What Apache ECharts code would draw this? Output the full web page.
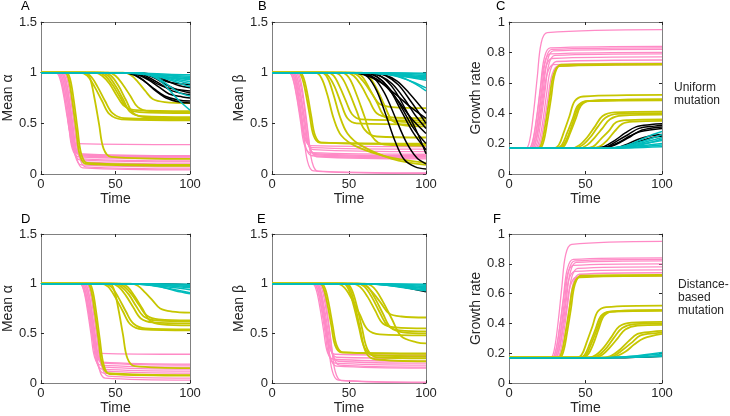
<!DOCTYPE html>
<html><head><meta charset="utf-8">
<script src="https://cdn.jsdelivr.net/npm/echarts@6/dist/echarts.min.js"></script>
<style>html,body{margin:0;padding:0;background:#fff}#c{width:730px;height:416px}</style>
</head><body><div id="c"></div>
<script>
// ---------- tick labels ----------
const xTicks = [0, 50, 100];
const yTicksMean = [0, 0.5, 1, 1.5];
const yTicksGrowth = [0, 0.2, 0.4, 0.6, 0.8, 1];

// ---------- Panel A : Mean alpha, uniform mutation ----------
const A_pink = [
 [[0,1],[10,1],[12.5,0.95],[15,0.79],[17.5,0.57],[20,0.38],[24,0.30],[100,0.29]],
 [[0,1],[11,1],[13.5,0.94],[16,0.75],[18.5,0.51],[21,0.28],[25,0.20],[100,0.18]],
 [[0,1],[12,1],[14.5,0.94],[17,0.75],[19.5,0.50],[22,0.27],[26,0.19],[100,0.17]],
 [[0,1],[13,1],[15.5,0.94],[18,0.75],[20.5,0.50],[23,0.26],[27,0.18],[100,0.16]],
 [[0,1],[11,1],[13.5,0.94],[16,0.75],[18.5,0.49],[21,0.25],[25,0.17],[100,0.15]],
 [[0,1],[14,1],[16.5,0.94],[19,0.74],[21.5,0.48],[24,0.23],[28,0.15],[100,0.13]],
 [[0,1],[12,1],[14.5,0.94],[17,0.74],[19.5,0.47],[22,0.23],[26,0.14],[100,0.12]],
 [[0,1],[15,1],[17.5,0.94],[20,0.73],[22.5,0.46],[25,0.21],[29,0.12],[100,0.10]],
 [[0,1],[13,1],[15.5,0.94],[18,0.72],[20.5,0.44],[23,0.18],[27,0.09],[100,0.07]],
 [[0,1],[16,1],[18.5,0.93],[21,0.72],[23.5,0.43],[26,0.16],[30,0.07],[100,0.05]],
 [[0,1],[14,1],[16.5,0.93],[19,0.71],[21.5,0.42],[24,0.16],[28,0.06],[100,0.04]]
];
const A_yellow = [
 [[0,1],[16,1],[18.5,0.94],[21,0.72],[23.5,0.45],[26,0.19],[30,0.10],[100,0.08]],
 [[0,1],[17,1],[19.5,0.94],[22,0.73],[24.5,0.45],[27,0.20],[31,0.11],[100,0.09]],
 [[0,1],[30,1],[33,0.94],[36,0.74],[39,0.49],[42,0.25],[47,0.17],[100,0.15]],
 [[0,1],[26,1],[31,0.97],[36,0.86],[41,0.72],[46,0.59],[54,0.54],[100,0.53]],
 [[0,1],[28,1],[33,0.97],[38,0.86],[43,0.72],[48,0.60],[56,0.55],[100,0.54]],
 [[0,1],[36,1],[41,0.97],[46,0.89],[51,0.77],[56,0.67],[64,0.63],[100,0.62]],
 [[0,1],[38,1],[43,0.97],[48,0.88],[53,0.76],[58,0.65],[66,0.61],[100,0.60]],
 [[0,1],[42,1],[47,0.97],[52,0.87],[57,0.73],[62,0.60],[70,0.56],[100,0.55]],
 [[0,1],[45,1],[50,0.97],[55,0.88],[60,0.77],[65,0.66],[73,0.62],[100,0.61]],
 [[0,1],[40,1],[45,0.97],[50,0.87],[55,0.74],[60,0.61],[68,0.57],[100,0.56]],
 [[0,1],[55,1],[60,0.98],[65,0.91],[70,0.82],[75,0.74],[83,0.71],[100,0.70]]
];
const A_black = [
 [[0,1],[55,1],[62,0.98],[69,0.92],[76,0.84],[83,0.77],[92,0.73],[100,0.72]],
 [[0,1],[58,1],[65,0.98],[72,0.93],[79,0.86],[86,0.79],[95,0.76],[100,0.75]],
 [[0,1],[60,1],[67,0.99],[74,0.94],[81,0.88],[88,0.82],[100,0.78]],
 [[0,1],[62,1],[69,0.99],[76,0.95],[83,0.89],[90,0.84],[100,0.80]],
 [[0,1],[57,1],[64,0.99],[71,0.95],[78,0.89],[85,0.85],[94,0.83],[100,0.82]],
 [[0,1],[65,1],[72,0.99],[79,0.96],[86,0.91],[93,0.87],[100,0.85]],
 [[0,1],[60,1],[67,0.99],[74,0.97],[81,0.93],[88,0.90],[100,0.88]],
 [[0,1],[56,1],[63,0.98],[70,0.91],[77,0.82],[84,0.75],[93,0.71],[100,0.70]]
];
const A_cyan = [
 [[0,1],[50,1],[70,0.995],[85,0.985],[100,0.98]],
 [[0,1],[50,1],[70,0.99],[85,0.975],[100,0.965]],
 [[0,1],[55,1],[70,0.99],[85,0.97],[100,0.95]],
 [[0,1],[50,1],[65,0.99],[80,0.965],[100,0.94]],
 [[0,1],[55,1],[70,0.985],[85,0.955],[100,0.93]],
 [[0,1],[60,1],[72,0.985],[86,0.95],[100,0.91]],
 [[0,1],[60,1],[72,0.98],[86,0.94],[100,0.89]],
 [[0,1],[62,1],[74,0.98],[88,0.92],[100,0.86]],
 [[0,1],[62,1],[70,0.99],[78,0.95],[86,0.87],[93,0.80],[100,0.77]],
 [[0,1],[65,1],[72,0.98],[79,0.93],[86,0.83],[93,0.72],[100,0.63]]
];

// ---------- Panel B : Mean beta, uniform mutation ----------
const B_pink = [
 [[0,1],[11,1],[13.5,0.95],[16,0.78],[18.5,0.56],[21,0.36],[25,0.28],[100,0.27]],
 [[0,1],[12,1],[14.5,0.95],[17,0.77],[19.5,0.55],[22,0.34],[26,0.26],[100,0.245]],
 [[0,1],[13,1],[15.5,0.95],[18,0.77],[20.5,0.53],[23,0.31],[27,0.24],[100,0.22]],
 [[0,1],[11,1],[13.5,0.94],[16,0.76],[18.5,0.52],[21,0.29],[25,0.21],[100,0.195]],
 [[0,1],[14,1],[16.5,0.94],[19,0.75],[21.5,0.50],[24,0.27],[28,0.19],[100,0.17]],
 [[0,1],[12,1],[14.5,0.94],[17,0.75],[19.5,0.50],[22,0.26],[26,0.18],[100,0.16]],
 [[0,1],[15,1],[17.5,0.94],[20,0.75],[22.5,0.49],[25,0.25],[29,0.17],[100,0.15]],
 [[0,1],[13,1],[15.5,0.93],[18,0.70],[20.5,0.41],[23,0.13],[27,0.03],[100,0.01]],
 [[0,1],[16,1],[18.5,0.93],[21,0.70],[23.5,0.40],[26,0.12],[30,0.025],[100,0.005]],
 [[0,1],[14,1],[16.5,0.94],[19,0.75],[21.5,0.51],[24,0.28],[28,0.20],[100,0.18]]
];
const B_yellow = [
 [[0,1],[17,1],[19.5,0.95],[22,0.79],[24.5,0.58],[27,0.38],[31,0.31],[100,0.30]],
 [[0,1],[18,1],[20.5,0.95],[23,0.79],[25.5,0.57],[28,0.38],[32,0.31],[100,0.295]],
 [[0,1],[28,1],[32,0.95],[36,0.78],[40,0.55],[45,0.38],[55,0.27],[75,0.17],[100,0.11]],
 [[0,1],[32,1],[36,0.95],[40,0.78],[44,0.57],[49,0.40],[58,0.28],[78,0.15],[100,0.09]],
 [[0,1],[33,1],[37,0.96],[41,0.85],[45,0.69],[49,0.55],[55,0.50],[100,0.49]],
 [[0,1],[36,1],[40,0.97],[44,0.86],[48,0.72],[52,0.59],[58,0.54],[100,0.53]],
 [[0,1],[40,1],[45,0.96],[50,0.81],[55,0.62],[60,0.44],[68,0.37],[100,0.36]],
 [[0,1],[45,1],[50,0.95],[55,0.78],[60,0.57],[65,0.37],[73,0.29],[100,0.28]],
 [[0,1],[48,1],[53,0.97],[58,0.87],[63,0.73],[68,0.60],[76,0.56],[100,0.55]],
 [[0,1],[50,1],[55,0.98],[60,0.90],[65,0.79],[70,0.69],[78,0.66],[100,0.65]],
 [[0,1],[53,1],[58,0.97],[63,0.85],[68,0.71],[73,0.57],[81,0.52],[100,0.51]],
 [[0,1],[58,1],[63,0.96],[68,0.84],[73,0.68],[78,0.53],[86,0.48],[100,0.47]]
];
const B_black = [
 [[0,1],[55,1],[62,0.96],[68,0.82],[74,0.58],[80,0.32],[86,0.14],[93,0.07],[100,0.05]],
 [[0,1],[58,1],[66,0.95],[73,0.80],[80,0.56],[87,0.32],[94,0.16],[100,0.10]],
 [[0,1],[60,1],[68,0.96],[76,0.84],[84,0.62],[92,0.40],[100,0.24]],
 [[0,1],[55,1],[64,0.97],[73,0.88],[82,0.72],[91,0.54],[100,0.40]],
 [[0,1],[62,1],[70,0.97],[78,0.89],[86,0.74],[93,0.58],[100,0.45]],
 [[0,1],[50,1],[60,0.98],[70,0.91],[80,0.79],[90,0.66],[100,0.55]],
 [[0,1],[65,1],[73,0.98],[81,0.92],[89,0.80],[100,0.60]],
 [[0,1],[60,1],[68,0.96],[76,0.85],[84,0.66],[92,0.45],[100,0.30]],
 [[0,1],[66,1],[74,0.97],[82,0.88],[90,0.72],[100,0.50]],
 [[0,1],[63,1],[71,0.96],[79,0.84],[87,0.63],[94,0.42],[100,0.20]]
];
const B_cyan = [
 [[0,1],[60,1],[100,0.995]],
 [[0,1],[60,1],[80,0.995],[100,0.985]],
 [[0,1],[55,1],[78,0.99],[100,0.97]],
 [[0,1],[55,1],[75,0.985],[100,0.96]],
 [[0,1],[60,1],[80,0.98],[100,0.95]],
 [[0,1],[60,1],[80,0.975],[100,0.94]],
 [[0,1],[65,1],[82,0.97],[100,0.925]],
 [[0,1],[62,1],[72,0.99],[82,0.96],[91,0.91],[100,0.85]],
 [[0,1],[65,1],[75,0.99],[85,0.95],[93,0.89],[100,0.82]]
];

// ---------- Panel C : Growth rate, uniform mutation ----------
const C_pink = [
 [[0,0.17],[11,0.17],[13.5,0.22],[16,0.40],[18.5,0.64],[21,0.86],[25,0.93],[100,0.95]],
 [[0,0.17],[13,0.17],[15.5,0.22],[18,0.37],[20.5,0.57],[23,0.76],[27,0.83],[100,0.84]],
 [[0,0.17],[14,0.17],[16.5,0.22],[19,0.37],[21.5,0.57],[24,0.75],[28,0.82],[100,0.83]],
 [[0,0.17],[15,0.17],[17.5,0.22],[20,0.37],[22.5,0.56],[25,0.74],[29,0.81],[100,0.82]],
 [[0,0.17],[13,0.17],[15.5,0.21],[18,0.36],[20.5,0.55],[23,0.72],[27,0.79],[100,0.80]],
 [[0,0.17],[16,0.17],[18.5,0.21],[21,0.36],[23.5,0.54],[26,0.72],[30,0.78],[100,0.79]],
 [[0,0.17],[14,0.17],[16.5,0.21],[19,0.35],[21.5,0.53],[24,0.70],[28,0.76],[100,0.77]],
 [[0,0.17],[17,0.17],[19.5,0.21],[22,0.34],[24.5,0.52],[27,0.68],[31,0.74],[100,0.75]],
 [[0,0.17],[15,0.17],[17.5,0.21],[20,0.34],[22.5,0.51],[25,0.66],[29,0.72],[100,0.73]],
 [[0,0.17],[18,0.17],[20.5,0.21],[23,0.34],[25.5,0.50],[28,0.65],[32,0.71],[100,0.72]]
];
const C_yellow = [
 [[0,0.17],[19,0.17],[21.5,0.21],[24,0.34],[26.5,0.50],[29,0.65],[33,0.71],[100,0.72]],
 [[0,0.17],[20,0.17],[22.5,0.21],[25,0.34],[27.5,0.50],[30,0.66],[34,0.72],[100,0.725]],
 [[0,0.17],[29,0.17],[32.5,0.19],[36,0.28],[39.5,0.38],[43,0.48],[48.5,0.51],[100,0.52]],
 [[0,0.17],[31,0.17],[34.5,0.19],[38,0.27],[41.5,0.36],[45,0.45],[50.5,0.48],[100,0.49]],
 [[0,0.17],[33,0.17],[36.5,0.19],[40,0.27],[43.5,0.36],[47,0.45],[52.5,0.48],[100,0.49]],
 [[0,0.17],[32,0.17],[35.5,0.19],[39,0.26],[42.5,0.36],[46,0.45],[51.5,0.48],[100,0.485]],
 [[0,0.17],[41,0.17],[46,0.19],[51,0.24],[56,0.31],[61,0.38],[69,0.405],[100,0.41]],
 [[0,0.17],[43,0.17],[48,0.19],[53,0.24],[58,0.31],[63,0.37],[71,0.395],[100,0.40]],
 [[0,0.17],[46,0.17],[51,0.19],[56,0.24],[61,0.30],[66,0.36],[74,0.385],[100,0.39]],
 [[0,0.17],[50,0.17],[55,0.18],[60,0.23],[65,0.28],[70,0.34],[78,0.355],[100,0.36]],
 [[0,0.17],[54,0.17],[59,0.18],[64,0.22],[69,0.28],[74,0.33],[82,0.345],[100,0.35]]
];
const C_black = [
 [[0,0.17],[55,0.17],[62,0.18],[69,0.22],[76,0.27],[83,0.31],[93,0.325],[100,0.33]],
 [[0,0.17],[57,0.17],[64,0.18],[71,0.22],[78,0.26],[85,0.30],[95,0.315],[100,0.32]],
 [[0,0.17],[59,0.17],[66,0.18],[73,0.21],[80,0.25],[87,0.29],[100,0.31]],
 [[0,0.17],[58,0.17],[65,0.18],[72,0.21],[79,0.25],[86,0.28],[100,0.30]],
 [[0,0.17],[64,0.17],[71,0.175],[78,0.20],[85,0.23],[92,0.25],[100,0.26]],
 [[0,0.17],[66,0.17],[73,0.175],[80,0.195],[87,0.22],[94,0.24],[100,0.25]]
];
const C_cyan = [
 [[0,0.17],[66,0.17],[73,0.18],[80,0.20],[87,0.23],[94,0.26],[100,0.28]],
 [[0,0.17],[68,0.17],[75,0.18],[82,0.20],[89,0.22],[100,0.26]],
 [[0,0.17],[65,0.17],[75,0.18],[85,0.20],[100,0.24]],
 [[0,0.17],[68,0.17],[78,0.18],[88,0.20],[100,0.22]],
 [[0,0.17],[60,0.17],[80,0.18],[100,0.20]],
 [[0,0.17],[60,0.17],[80,0.175],[100,0.19]],
 [[0,0.17],[60,0.17],[100,0.18]],
 [[0,0.17],[70,0.17],[80,0.18],[90,0.20],[100,0.23]]
];

// ---------- Panel D : Mean alpha, distance-based mutation ----------
const D_pink = [
 [[0,1],[26,1],[28.5,0.95],[31,0.79],[33.5,0.57],[36,0.38],[40,0.30],[100,0.29]],
 [[0,1],[27,1],[29.5,0.94],[32,0.76],[34.5,0.51],[37,0.29],[41,0.21],[100,0.19]],
 [[0,1],[28,1],[30.5,0.94],[33,0.75],[35.5,0.51],[38,0.28],[42,0.20],[100,0.18]],
 [[0,1],[26,1],[28.5,0.94],[31,0.75],[33.5,0.50],[36,0.26],[40,0.18],[100,0.16]],
 [[0,1],[29,1],[31.5,0.94],[34,0.74],[36.5,0.48],[39,0.24],[43,0.16],[100,0.14]],
 [[0,1],[27,1],[29.5,0.94],[32,0.74],[34.5,0.47],[37,0.23],[41,0.14],[100,0.12]],
 [[0,1],[30,1],[32.5,0.94],[35,0.73],[37.5,0.46],[40,0.21],[44,0.12],[100,0.10]],
 [[0,1],[28,1],[30.5,0.94],[33,0.72],[35.5,0.45],[38,0.19],[42,0.10],[100,0.08]],
 [[0,1],[31,1],[33.5,0.93],[36,0.72],[38.5,0.43],[41,0.16],[45,0.07],[100,0.05]],
 [[0,1],[29,1],[31.5,0.93],[34,0.71],[36.5,0.42],[39,0.15],[43,0.05],[100,0.03]]
];
const D_yellow = [
 [[0,1],[31,1],[33.5,0.94],[36,0.72],[38.5,0.45],[41,0.19],[45,0.10],[100,0.08]],
 [[0,1],[32,1],[34.5,0.94],[37,0.72],[39.5,0.44],[42,0.19],[46,0.09],[100,0.075]],
 [[0,1],[46,1],[49,0.94],[52,0.74],[55,0.49],[58,0.25],[63,0.17],[100,0.15]],
 [[0,1],[40,1],[45,0.97],[50,0.86],[55,0.72],[60,0.59],[68,0.54],[100,0.53]],
 [[0,1],[42,1],[47,0.97],[52,0.86],[57,0.72],[62,0.60],[70,0.55],[100,0.54]],
 [[0,1],[47,1],[52,0.97],[57,0.88],[62,0.76],[67,0.65],[75,0.61],[100,0.60]],
 [[0,1],[49,1],[54,0.97],[59,0.89],[64,0.77],[69,0.67],[77,0.63],[100,0.62]],
 [[0,1],[51,1],[56,0.97],[61,0.89],[66,0.78],[71,0.68],[79,0.64],[100,0.63]],
 [[0,1],[53,1],[58,0.97],[63,0.87],[68,0.75],[73,0.63],[81,0.59],[100,0.58]],
 [[0,1],[60,1],[65,0.98],[70,0.91],[75,0.83],[80,0.75],[88,0.72],[100,0.71]]
];
const D_black = [
 [[0,1],[70,1],[100,0.99]]
];
const D_cyan = [
 [[0,1],[55,1],[100,0.995]],
 [[0,1],[55,1],[80,0.995],[100,0.985]],
 [[0,1],[60,1],[80,0.99],[100,0.97]],
 [[0,1],[60,1],[80,0.985],[100,0.96]],
 [[0,1],[58,1],[75,0.985],[90,0.96],[100,0.94]],
 [[0,1],[60,1],[75,0.98],[90,0.94],[100,0.91]],
 [[0,1],[62,1],[77,0.98],[90,0.93],[100,0.90]]
];

// ---------- Panel E : Mean beta, distance-based mutation ----------
const E_pink = [
 [[0,1],[27,1],[29.5,0.95],[32,0.78],[34.5,0.57],[37,0.37],[41,0.29],[100,0.28]],
 [[0,1],[28,1],[30.5,0.95],[33,0.77],[35.5,0.55],[38,0.34],[42,0.26],[100,0.25]],
 [[0,1],[26,1],[28.5,0.95],[31,0.77],[33.5,0.53],[36,0.31],[40,0.24],[100,0.22]],
 [[0,1],[29,1],[31.5,0.94],[34,0.76],[36.5,0.52],[39,0.30],[43,0.22],[100,0.20]],
 [[0,1],[27,1],[29.5,0.94],[32,0.75],[34.5,0.51],[37,0.28],[41,0.20],[100,0.18]],
 [[0,1],[30,1],[32.5,0.94],[35,0.75],[37.5,0.50],[40,0.26],[44,0.18],[100,0.16]],
 [[0,1],[28,1],[30.5,0.94],[33,0.75],[35.5,0.49],[38,0.25],[42,0.17],[100,0.15]],
 [[0,1],[29,1],[31.5,0.93],[34,0.70],[36.5,0.41],[39,0.13],[43,0.03],[100,0.01]],
 [[0,1],[31,1],[33.5,0.93],[36,0.70],[38.5,0.40],[41,0.12],[45,0.025],[100,0.005]]
];
const E_yellow = [
 [[0,1],[31,1],[33.5,0.95],[36,0.79],[38.5,0.58],[41,0.38],[45,0.31],[100,0.30]],
 [[0,1],[32,1],[34.5,0.95],[37,0.79],[39.5,0.57],[42,0.38],[46,0.31],[100,0.295]],
 [[0,1],[46,1],[49.5,0.95],[53,0.78],[56.5,0.56],[60,0.36],[66,0.28],[100,0.27]],
 [[0,1],[48,1],[51.5,0.95],[55,0.78],[58.5,0.55],[62,0.34],[68,0.26],[100,0.25]],
 [[0,1],[47,1],[50.5,0.95],[54,0.77],[57.5,0.53],[61,0.31],[67,0.24],[100,0.22]],
 [[0,1],[42,1],[47,0.96],[52,0.84],[57,0.69],[62,0.54],[70,0.49],[100,0.48]],
 [[0,1],[52,1],[57,0.97],[62,0.87],[67,0.73],[72,0.60],[80,0.56],[100,0.55]],
 [[0,1],[55,1],[60,0.97],[65,0.86],[70,0.71],[75,0.58],[83,0.53],[100,0.52]],
 [[0,1],[57,1],[62,0.97],[67,0.85],[72,0.70],[77,0.56],[85,0.51],[100,0.50]],
 [[0,1],[56,1],[61,0.98],[66,0.90],[71,0.80],[76,0.70],[84,0.67],[100,0.66]],
 [[0,1],[60,1],[66,0.96],[72,0.82],[78,0.64],[84,0.47],[94,0.41],[100,0.40]]
];
const E_black = [
 [[0,1],[65,1],[80,0.98],[100,0.92]]
];
const E_cyan = [
 [[0,1],[55,1],[100,0.995]],
 [[0,1],[55,1],[80,0.995],[100,0.985]],
 [[0,1],[60,1],[80,0.99],[100,0.97]],
 [[0,1],[60,1],[80,0.985],[100,0.96]],
 [[0,1],[58,1],[75,0.985],[90,0.965],[100,0.95]],
 [[0,1],[60,1],[75,0.985],[90,0.955],[100,0.94]],
 [[0,1],[62,1],[77,0.98],[90,0.95],[100,0.93]]
];

// ---------- Panel F : Growth rate, distance-based mutation ----------
const F_pink = [
 [[0,0.17],[27,0.17],[29.5,0.22],[32,0.40],[34.5,0.64],[37,0.86],[41,0.93],[100,0.95]],
 [[0,0.17],[28,0.17],[30.5,0.22],[33,0.37],[35.5,0.57],[38,0.76],[42,0.83],[100,0.84]],
 [[0,0.17],[29,0.17],[31.5,0.22],[34,0.37],[36.5,0.57],[39,0.75],[43,0.82],[100,0.83]],
 [[0,0.17],[30,0.17],[32.5,0.22],[35,0.37],[37.5,0.56],[40,0.74],[44,0.81],[100,0.82]],
 [[0,0.17],[28,0.17],[30.5,0.21],[33,0.36],[35.5,0.55],[38,0.72],[42,0.79],[100,0.80]],
 [[0,0.17],[31,0.17],[33.5,0.21],[36,0.35],[38.5,0.54],[41,0.71],[45,0.77],[100,0.78]],
 [[0,0.17],[29,0.17],[31.5,0.21],[34,0.35],[36.5,0.52],[39,0.69],[43,0.75],[100,0.76]],
 [[0,0.17],[32,0.17],[34.5,0.21],[37,0.34],[39.5,0.51],[42,0.67],[46,0.73],[100,0.74]],
 [[0,0.17],[30,0.17],[32.5,0.21],[35,0.34],[37.5,0.50],[40,0.65],[44,0.71],[100,0.72]]
];
const F_yellow = [
 [[0,0.17],[32,0.17],[34.5,0.21],[37,0.34],[39.5,0.50],[42,0.65],[46,0.71],[100,0.72]],
 [[0,0.17],[33,0.17],[35.5,0.21],[38,0.34],[40.5,0.50],[43,0.66],[47,0.72],[100,0.725]],
 [[0,0.17],[44,0.17],[47.5,0.19],[51,0.28],[54.5,0.38],[58,0.48],[63.5,0.51],[100,0.52]],
 [[0,0.17],[46,0.17],[49.5,0.19],[53,0.27],[56.5,0.36],[60,0.45],[65.5,0.48],[100,0.49]],
 [[0,0.17],[47,0.17],[50.5,0.19],[54,0.27],[57.5,0.36],[61,0.45],[66.5,0.48],[100,0.49]],
 [[0,0.17],[48,0.17],[51.5,0.19],[55,0.26],[58.5,0.36],[62,0.45],[67.5,0.48],[100,0.485]],
 [[0,0.17],[52,0.17],[57,0.19],[62,0.24],[67,0.31],[72,0.38],[80,0.405],[100,0.41]],
 [[0,0.17],[54,0.17],[59,0.19],[64,0.24],[69,0.31],[74,0.37],[82,0.395],[100,0.40]],
 [[0,0.17],[56,0.17],[61,0.19],[66,0.24],[71,0.30],[76,0.36],[84,0.385],[100,0.39]],
 [[0,0.17],[60,0.17],[66,0.18],[72,0.22],[78,0.28],[84,0.33],[94,0.345],[100,0.35]],
 [[0,0.17],[62,0.17],[68,0.18],[74,0.22],[80,0.27],[86,0.32],[96,0.335],[100,0.34]],
 [[0,0.17],[64,0.17],[70,0.18],[76,0.21],[82,0.26],[88,0.30],[100,0.33]]
];
const F_black = [
 [[0,0.17],[70,0.17],[100,0.18]]
];
const F_cyan = [
 [[0,0.17],[60,0.17],[80,0.18],[100,0.205]],
 [[0,0.17],[60,0.17],[80,0.178],[100,0.195]],
 [[0,0.17],[62,0.17],[85,0.175],[100,0.185]],
 [[0,0.17],[60,0.17],[100,0.178]]
];

// ---------- text ----------
const panelLetters = ['A','B','C','D','E','F'];
const yNames = ['Mean α','Mean β','Growth rate','Mean α','Mean β','Growth rate'];
const xName = 'Time';
const rowNotes = ['Uniform\nmutation', 'Distance-\nbased\nmutation'];

// ---------- layout / style ----------
const FONT = '"Liberation Sans", Arial, Helvetica, sans-serif';
const TXT = '#262626';
const FRAME = '#808080';
const COLORS = {pink:'#ff8ac6', yellow:'#c6c600', black:'#000000', cyan:'#00bcbc'};
const WIDTHS = {pink:1.3, yellow:1.8, black:1.5, cyan:1.5};

const panels = [
 {grid:{left:36, top:22, width:154, height:152}, yint:0.5, nameGap:18, data:{pink:A_pink, yellow:A_yellow, black:A_black, cyan:A_cyan}},
 {grid:{left:272, top:22, width:154, height:152}, yint:0.5, nameGap:17, data:{pink:B_pink, yellow:B_yellow, black:B_black, cyan:B_cyan}},
 {grid:{left:509, top:22, width:153, height:152}, yint:0.2, nameGap:18, data:{pink:C_pink, yellow:C_yellow, black:C_black, cyan:C_cyan}},
 {grid:{left:36, top:234, width:154, height:153}, yint:0.5, nameGap:18, data:{pink:D_pink, yellow:D_yellow, black:D_black, cyan:D_cyan}},
 {grid:{left:272, top:234, width:154, height:153}, yint:0.5, nameGap:17, data:{pink:E_pink, yellow:E_yellow, black:E_black, cyan:E_cyan}},
 {grid:{left:509, top:234, width:153, height:153}, yint:0.2, nameGap:18, data:{pink:F_pink, yellow:F_yellow, black:F_black, cyan:F_cyan}}
];
const letterPos = [[21,7],[258,7],[496,7],[21,220],[257,220],[493,220]];
const notePos = [[674,81],[678,278]];

const grids = [], xAxes = [], yAxes = [], series = [];
const tickStyle = {show:true, inside:true, length:3, lineStyle:{color:TXT, width:1}};
const lineStyleAx = {show:true, onZero:false, lineStyle:{color:FRAME, width:1}};
const labelStyle = {color:TXT, fontSize:13, fontFamily:FONT};

panels.forEach((p, i) => {
  grids.push(Object.assign({containLabel:false}, p.grid));
  xAxes.push({gridIndex:i, type:'value', min:xTicks[0], max:xTicks[xTicks.length-1], interval:50, position:'bottom',
    axisLine:lineStyleAx, axisTick:tickStyle, splitLine:{show:false},
    axisLabel:Object.assign({margin:4}, labelStyle),
    name:xName, nameLocation:'middle', nameGap:12, nameTextStyle:{color:TXT, fontSize:14, fontFamily:FONT}});
  xAxes.push({gridIndex:i, type:'value', min:0, max:100, interval:50, position:'top',
    axisLine:lineStyleAx, axisTick:tickStyle, splitLine:{show:false}, axisLabel:{show:false}});
  const yt = i % 3 === 2 ? yTicksGrowth : yTicksMean;
  yAxes.push({gridIndex:i, type:'value', min:yt[0], max:yt[yt.length-1], interval:p.yint, position:'left',
    axisLine:lineStyleAx, axisTick:tickStyle, splitLine:{show:false},
    axisLabel:Object.assign({margin:4}, labelStyle),
    name:yNames[i], nameLocation:'middle', nameGap:p.nameGap, nameRotate:90,
    nameTextStyle:{color:TXT, fontSize:14, fontFamily:FONT}});
  yAxes.push({gridIndex:i, type:'value', min:yt[0], max:yt[yt.length-1], interval:p.yint, position:'right',
    axisLine:lineStyleAx, axisTick:tickStyle, splitLine:{show:false}, axisLabel:{show:false}});
  ['pink','yellow','black','cyan'].forEach((c, ci) => {
    p.data[c].forEach(curve => {
      series.push({type:'line', xAxisIndex:2*i, yAxisIndex:2*i, data:curve, showSymbol:false, symbol:'none',
        smooth:0.35, silent:true, animation:false, z:2+ci,
        lineStyle:{color:COLORS[c], width:WIDTHS[c]}});
    });
  });
});

const graphics = [];
panelLetters.forEach((L, i) => {
  graphics.push({type:'text', left:letterPos[i][0], top:letterPos[i][1]-7,
    style:{text:L, fill:'#000', font:'13px ' + FONT}});
});
rowNotes.forEach((t, i) => {
  graphics.push({type:'text', left:notePos[i][0], top:notePos[i][1],
    style:{text:t, fill:TXT, font:'12px ' + FONT, lineHeight:13}});
});

const chart = echarts.init(document.getElementById('c'), null, {renderer:'canvas'});
chart.setOption({animation:false, backgroundColor:'#fff', grid:grids, xAxis:xAxes, yAxis:yAxes, series:series, graphic:graphics});
</script></body></html>
